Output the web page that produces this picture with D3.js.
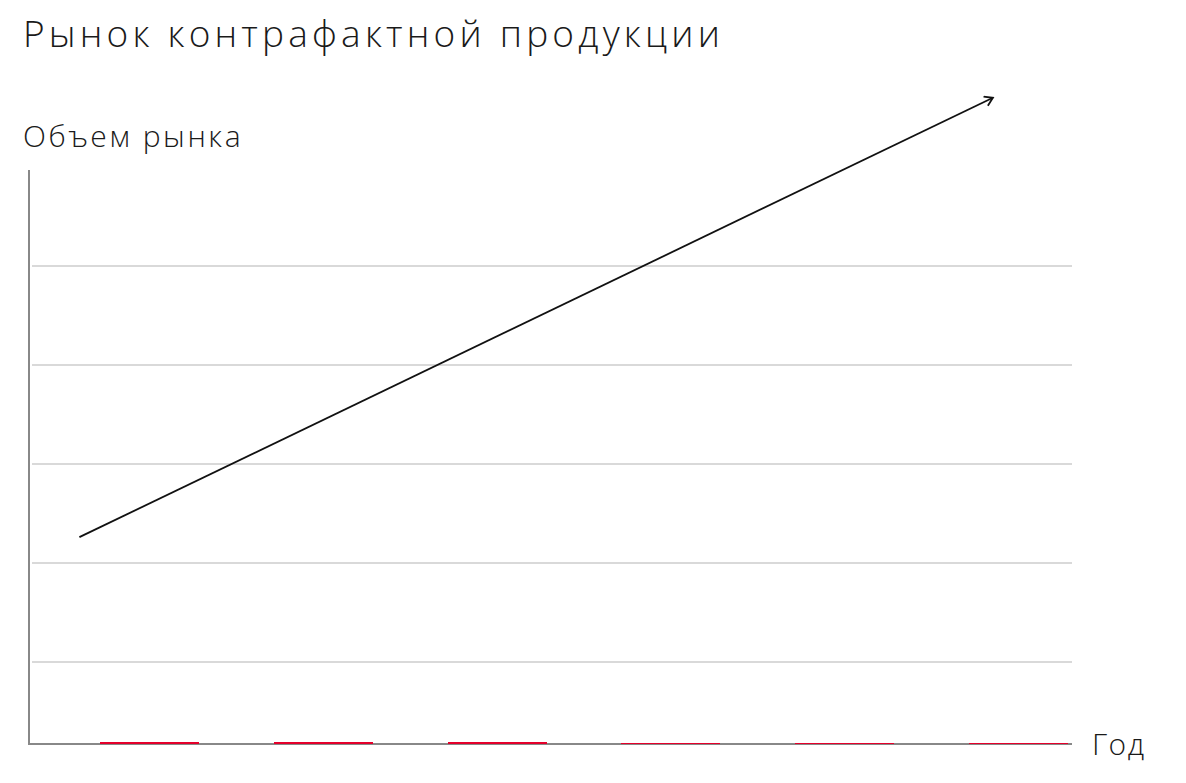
<!DOCTYPE html>
<html>
<head>
<meta charset="utf-8">
<script src="https://cdn.jsdelivr.net/npm/d3@7"></script>
<style>
  body { margin: 0; background: #fff; }
  text { font-family: "Open Sans", sans-serif; font-weight: 300; fill: #1a1a1a; }
</style>
</head>
<body>
<script>
'use strict';

// chart data
const years = ["1", "2", "3", "4", "5", "6"];
const volumes = [0.02, 0.02, 0.02, 0.01, 0.01, 0.01];
const gridValues = [0.83, 1.83, 2.83, 3.83, 4.83];
// trend arrow, in band-index / volume units
const trendX = [0.1, 5.35];
const trendY = [2.09, 6.53];

const title = "Рынок контрафактной продукции",
      yLabel = "Объем рынка",
      xLabel = "Год";

const width = 1186, height = 783;
const axisX = 29, axisBottom = 744, axisTop = 170, axisRight = 1072;

const svg = d3.select("body").append("svg")
    .attr("width", width)
    .attr("height", height);

const x = d3.scaleBand()
    .domain(years)
    .range([62, 1106])
    .paddingInner(0.43)
    .paddingOuter(0.22);

const xIdx = d3.scaleLinear()
    .domain([0, 6])
    .range([62, 1106]);

const y = d3.scaleLinear()
    .domain([0, 5.8])
    .range([axisBottom, axisTop]);

// gridlines
svg.append("g")
  .selectAll("line")
  .data(gridValues)
  .enter().append("line")
    .attr("x1", axisX + 3)
    .attr("x2", axisRight)
    .attr("y1", (d) => Math.round(y(d)))
    .attr("y2", (d) => Math.round(y(d)))
    .attr("stroke", "#d9d9d9")
    .attr("stroke-width", 2);

// axes
svg.append("line")
    .attr("x1", axisX).attr("x2", axisX)
    .attr("y1", axisTop).attr("y2", axisBottom + 1)
    .attr("stroke", "#888").attr("stroke-width", 2);

svg.append("line")
    .attr("x1", axisX - 1).attr("x2", axisRight)
    .attr("y1", axisBottom).attr("y2", axisBottom)
    .attr("stroke", "#888").attr("stroke-width", 2);

// bars, on top of the axis line
svg.append("g")
  .selectAll("rect")
  .data(volumes)
  .enter().append("rect")
    .attr("x", (d, i) => Math.round(x(years[i])))
    .attr("width", Math.round(x.bandwidth()))
    .attr("y", (d) => Math.round(y(d)))
    .attr("height", (d) => axisBottom - Math.round(y(d)))
    .attr("fill", "#e4002b")
    .attr("shape-rendering", "crispEdges");

// arrow
svg.append("defs").append("marker")
    .attr("id", "head")
    .attr("viewBox", "-10 -6 12 12")
    .attr("markerWidth", 12)
    .attr("markerHeight", 12)
    .attr("markerUnits", "userSpaceOnUse")
    .attr("orient", "auto")
  .append("path")
    .attr("d", "M-8,-5 L0,0 L-8,5")
    .attr("fill", "none")
    .attr("stroke", "#111")
    .attr("stroke-width", 1.8);

const line = d3.line()
    .x((d) => xIdx(d[0]))
    .y((d) => y(d[1]));

svg.append("path")
    .datum(d3.zip(trendX, trendY))
    .attr("d", line)
    .attr("fill", "none")
    .attr("stroke", "#111")
    .attr("stroke-width", 1.8)
    .attr("marker-end", "url(#head)");

// texts
svg.append("text")
    .attr("x", 23).attr("y", 47)
    .style("font-size", "37px")
    .style("letter-spacing", "4.2px")
    .text(title);

svg.append("text")
    .attr("x", 23).attr("y", 147)
    .style("font-size", "30px")
    .style("letter-spacing", "2.6px")
    .text(yLabel);

svg.append("text")
    .attr("x", 1092).attr("y", 755)
    .style("font-size", "30px")
    .style("letter-spacing", "1.5px")
    .text(xLabel);
</script>
</body>
</html>
